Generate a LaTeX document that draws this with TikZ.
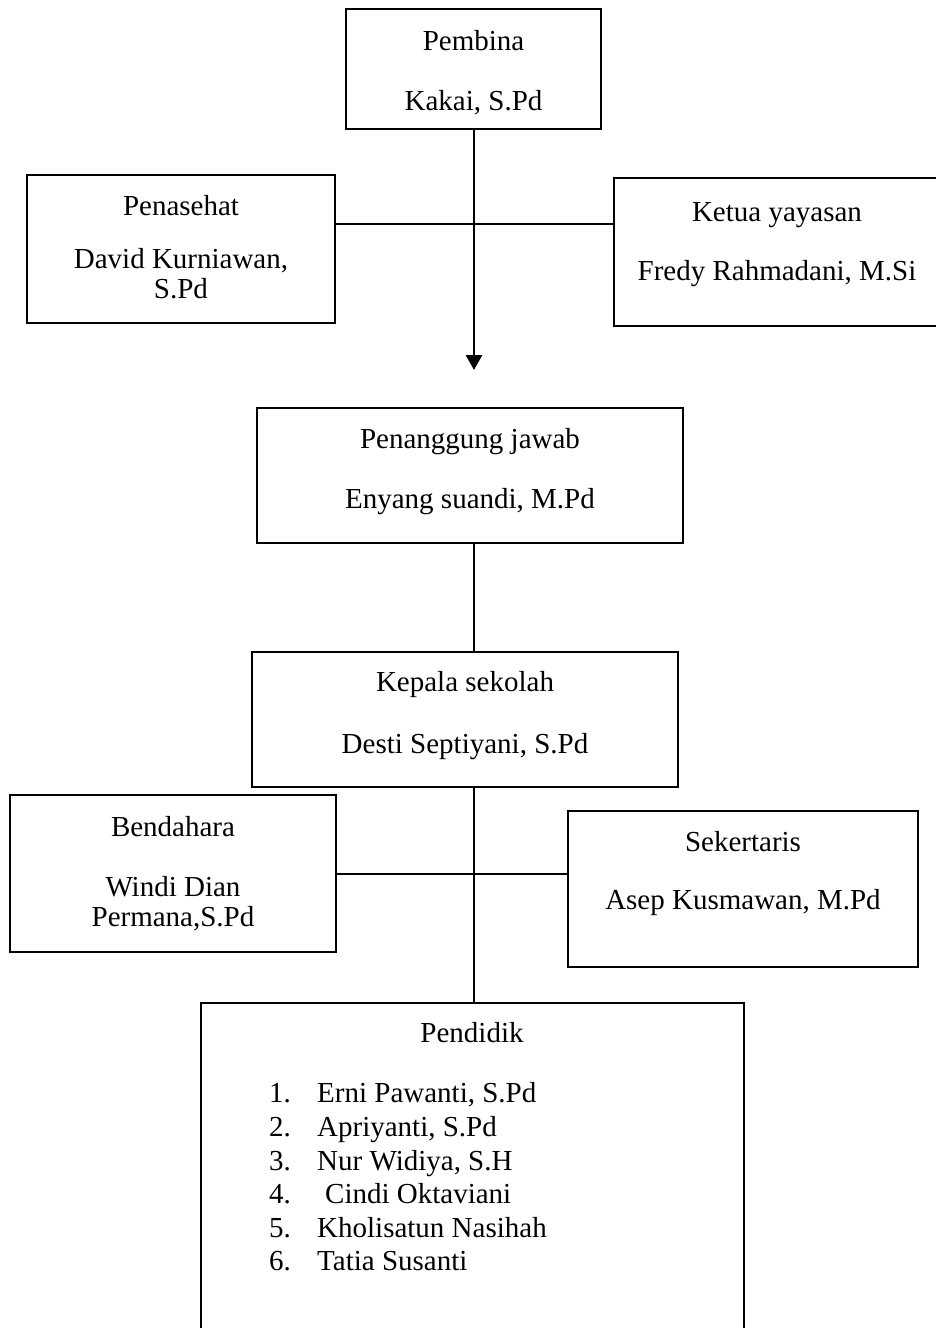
\documentclass[tikz,border=0pt]{standalone}
\usepackage{fontspec}
\setmainfont{Liberation Serif}
\usetikzlibrary{arrows.meta}
\tikzset{
  box/.style={draw, line width=2pt, inner sep=0pt},
  txt/.style={anchor=base, inner sep=0pt, font=\fontsize{29}{34}\selectfont},
  itm/.style={anchor=base west, inner sep=0pt, font=\fontsize{29}{34}\selectfont},
}

\begin{document}
\begin{tikzpicture}[x=1pt,y=-1pt,>={Triangle[length=15pt,width=16pt]}]
\useasboundingbox (0,0) rectangle (935,1328);
\coordinate (axis) at (474,0);

% top
\node[box, minimum width=255pt, minimum height=120pt] (pembina) at (473.5,69) {};
\node[txt] (pembina_t1) at (473.5,50) {Pembina};
\node[txt] (pembina_t2) at (473.5,110) {Kakai, S.Pd};

\node[box, minimum width=308pt, minimum height=148pt] (penasehat) at (181,249) {};
\node[txt] (penasehat_t1) at (181,215) {Penasehat};
\node[txt] (penasehat_t2) at (181,268) {David Kurniawan,};
\node[txt] (penasehat_t3) at (181,298) {S.Pd};

\node[box, minimum width=326pt, minimum height=148pt] (ketua) at (777,252) {};
\node[txt] (ketua_t1) at (777,221) {Ketua yayasan};
\node[txt] (ketua_t2) at (777,280) {Fredy Rahmadani, M.Si};

\coordinate (tip) at (474,370);
\coordinate (j1) at (474,224);
\draw[line width=2.6pt,->] (pembina.south -| axis) -- (tip);
\draw[line width=2pt] (j1 -| penasehat.east) -- (j1 -| ketua.west);

% middle
\node[box, minimum width=426pt, minimum height=135pt] (penanggung) at (470,475.5) {};
\node[txt] (penanggung_t1) at (470,448) {Penanggung jawab};
\node[txt] (penanggung_t2) at (470,508) {Enyang suandi, M.Pd};

\node[box, minimum width=426pt, minimum height=135pt] (kepala) at (465,719.5) {};
\node[txt] (kepala_t1) at (465,691) {Kepala sekolah};
\node[txt] (kepala_t2) at (465,753) {Desti Septiyani, S.Pd};

\draw[line width=1.5pt] (penanggung.south -| axis) -- (kepala.north -| axis);

% bottom
\node[box, minimum width=326pt, minimum height=157pt] (bendahara) at (173,873.5) {};
\node[txt] (bendahara_t1) at (173,836) {Bendahara};
\node[txt] (bendahara_t2) at (173,896) {Windi Dian};
\node[txt] (bendahara_t3) at (173,926) {Permana,S.Pd};

\node[box, minimum width=350pt, minimum height=156pt] (sekertaris) at (743,889) {};
\node[txt] (sekertaris_t1) at (743,851) {Sekertaris};
\node[txt] (sekertaris_t2) at (743,909) {Asep Kusmawan, M.Pd};

\node[box, minimum width=543pt, minimum height=345pt] (pendidik) at (472.5,1175.5) {};
\node[txt] (pendidik_t0) at (472,1042) {Pendidik};
\node[itm] (n1) at (269,1102) {1.};
\node[itm] (n2) at (269,1136) {2.};
\node[itm] (n3) at (269,1170) {3.};
\node[itm] (n4) at (269,1203) {4.};
\node[itm] (n5) at (269,1237) {5.};
\node[itm] (n6) at (269,1270) {6.};
\node[itm] (g1) at (317,1102) {Erni Pawanti, S.Pd};
\node[itm] (g2) at (317,1136) {Apriyanti, S.Pd};
\node[itm] (g3) at (317,1170) {Nur Widiya, S.H};
\node[itm] (g4) at (325,1203) {Cindi Oktaviani};
\node[itm] (g5) at (317,1237) {Kholisatun Nasihah};
\node[itm] (g6) at (317,1270) {Tatia Susanti};

\coordinate (j2) at (474,874);
\draw[line width=1.5pt] (kepala.south -| axis) -- (pendidik.north -| axis);
\draw[line width=1.5pt] (j2 -| bendahara.east) -- (j2 -| sekertaris.west);
\end{tikzpicture}
\end{document}
